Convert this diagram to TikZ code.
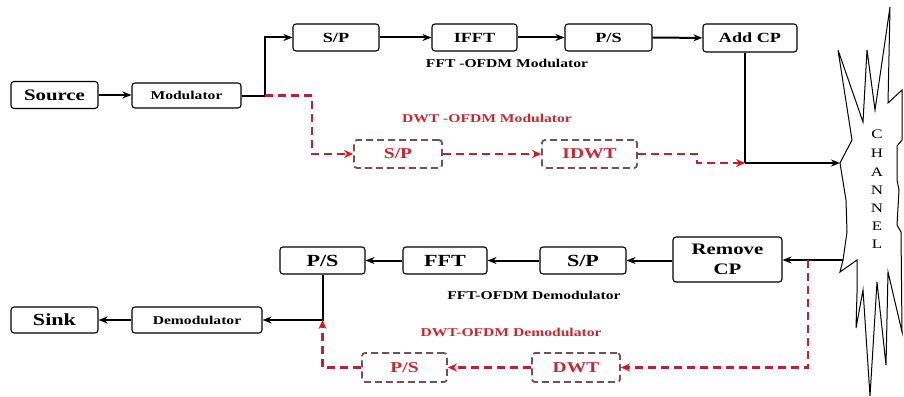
\documentclass[tikz,border=0pt]{standalone}
\usepackage{fontspec}
\setmainfont{Liberation Serif}
\newfontfamily\wfont[FakeStretch=1.3]{Liberation Serif}
\usetikzlibrary{arrows.meta}
\definecolor{lnred}{RGB}{185,35,55}
\definecolor{tipred}{RGB}{225,20,25}
\definecolor{boxred}{RGB}{115,80,85}
\definecolor{txtred}{RGB}{200,40,50}
\newcommand{\fsz}[1]{\fontsize{#1}{#1}\selectfont}
\tikzset{
  box/.style={draw, line width=1.1pt, rounded corners=3pt, inner sep=0pt, align=center},
  rbox/.style={draw=boxred, line width=1.8pt, dash pattern=on 7pt off 4pt, rounded corners=3pt, inner sep=0pt, text=txtred, font=\wfont\bfseries\fsz{15}},
  arr/.style={line width=2pt, -{Stealth[length=9pt,width=7pt]}},
  conn/.style={line width=2pt},
  rarr/.style={draw=lnred, line width=2.4pt, dash pattern=on 8pt off 5pt, -{Stealth[length=9pt,width=8pt,fill=tipred,color=tipred]}},
  rconn/.style={draw=lnred, line width=2.4pt, dash pattern=on 8pt off 5pt},
  lbl/.style={font=\wfont\bfseries\fsz{12}, inner sep=0pt},
  chl/.style={font=\wfont\fsz{13}, inner sep=0pt}
}
\begin{document}
\begin{tikzpicture}[x=1pt,y=-1pt]
\useasboundingbox (0,0) rectangle (904,396);
% channel
\draw[line width=1pt, fill=white] (852,140) -- (838,50) -- (863,122) -- (867,50) -- (875,110) -- (890,7) -- (888,103) -- (902,90) -- (902,140) -- (897,146) -- (897,180) -- (899,190) -- (897,225) -- (901,232) -- (902,332) -- (888,272) -- (886,365) -- (877,282) -- (870,396) -- (863,290) -- (856,328) -- (857,293) -- (857,260) -- (840,272) -- (843,260) -- (847,232) -- (846,200) -- (840,163) -- cycle;
\node[chl] (c1) at (877,134) {C};
\node[chl] (c2) at (877,153) {H};
\node[chl] (c3) at (877,172) {A};
\node[chl] (c4) at (877,190) {N};
\node[chl] (c5) at (877,208) {N};
\node[chl] (c6) at (877,226) {E};
\node[chl] (c7) at (877,244) {L};
% top row
\node[box, minimum width=87pt, minimum height=27pt, font=\wfont\bfseries\fsz{16}] (src) at (54.5,95) {Source};
\node[box, minimum width=109pt, minimum height=25pt, font=\wfont\bfseries\fsz{12}] (mod) at (186.5,95.5) {Modulator};
\node[box, minimum width=86pt, minimum height=27pt, font=\wfont\bfseries\fsz{14}] (sp1) at (336,37.5) {S/P};
\node[box, minimum width=85pt, minimum height=27pt, font=\wfont\bfseries\fsz{14}] (ifft) at (474.5,37.5) {IFFT};
\node[box, minimum width=87pt, minimum height=27pt, font=\wfont\bfseries\fsz{14}] (ps1) at (608.5,37.5) {P/S};
\node[box, minimum width=94pt, minimum height=28pt, font=\wfont\bfseries\fsz{14}] (addcp) at (750,38) {Add CP};
\node[rbox, minimum width=88pt, minimum height=28pt] (rsp) at (398,154) {S/P};
\node[rbox, minimum width=95pt, minimum height=28pt] (idwt) at (589.5,154) {IDWT};
\node[lbl] (l1) at (507,63) {FFT -OFDM Modulator};
\node[lbl, text=txtred] (l2) at (487,118) {DWT -OFDM Modulator};
% bottom row
\node[box, minimum width=87pt, minimum height=26pt, font=\wfont\bfseries\fsz{17}] (sink) at (54.5,320) {Sink};
\node[box, minimum width=130pt, minimum height=26pt, font=\wfont\bfseries\fsz{12}] (demod) at (197,320) {Demodulator};
\node[box, minimum width=85pt, minimum height=27pt, font=\wfont\bfseries\fsz{17}] (ps2) at (322.5,260.5) {P/S};
\node[box, minimum width=84pt, minimum height=27pt, font=\wfont\bfseries\fsz{17}] (fft) at (445,260.5) {FFT};
\node[box, minimum width=86pt, minimum height=27pt, font=\wfont\bfseries\fsz{17}] (sp2) at (583,260.5) {S/P};
\node[box, minimum width=109pt, minimum height=45pt, font=\wfont\bfseries\fsz{16}] (rmcp) at (727.5,259.5) {Remove\\[4pt]CP};
\node[rbox, minimum width=88pt, minimum height=29pt] (dwt) at (576,367.5) {DWT};
\node[rbox, minimum width=85pt, minimum height=29pt] (rps) at (404.5,367.5) {P/S};
\node[lbl] (l3) at (534,295) {FFT-OFDM Demodulator};
\node[lbl, text=txtred] (l4) at (511,332) {DWT-OFDM Demodulator};
% coordinates
\coordinate (j1) at (265,95.5);
\coordinate (rb1) at (312,154);
\coordinate (rb2) at (697,154);
\coordinate (jc) at (745,163);
\coordinate (chin) at (840,163);
\coordinate (chout) at (843,260);
\coordinate (rj) at (808,260);
\coordinate (j2) at (322.5,320);
% top connectors
\draw[arr] (src.east) -- (src.east -| mod.west);
\draw[conn] (mod.east) -- (j1);
\draw[arr] (j1) |- (sp1.west);
\draw[arr] (sp1) -- (ifft);
\draw[arr] (ifft) -- (ps1);
\draw[arr] (ps1) -- (addcp);
\draw[conn] (addcp.south -| jc) -- (jc);
\draw[arr] (jc) -- (chin);
\draw[rarr] (j1) -| (rb1) -- (rsp.west);
\draw[rarr] (rsp) -- (idwt);
\draw[rarr] (idwt.east) -- (rb2) |- (jc);
% bottom connectors
\draw[arr] (chout) -- (chout -| rmcp.east);
\draw[arr] (rmcp.west |- sp2.east) -- (sp2.east);
\draw[arr] (sp2) -- (fft);
\draw[arr] (fft) -- (ps2);
\draw[arr] (ps2.south) |- (demod.east);
\draw[arr] (demod) -- (sink);
\draw[rarr] (rj) |- (dwt.east);
\draw[rarr] (dwt) -- (rps);
\draw[rarr] (rps.west) -| (j2);
\end{tikzpicture}
\end{document}
